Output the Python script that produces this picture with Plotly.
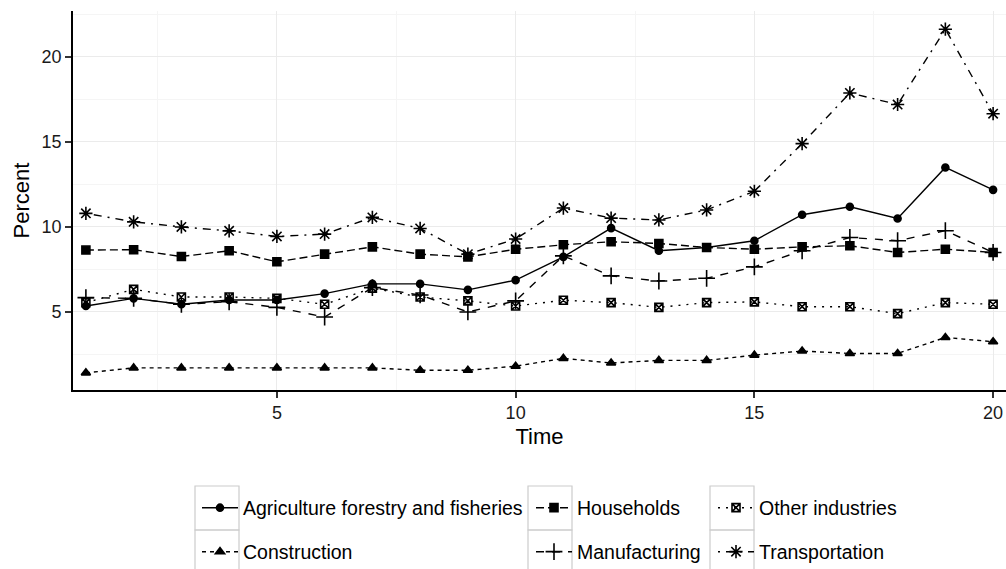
import plotly.graph_objects as go

time = list(range(1, 21))

agriculture = [5.35, 5.8, 5.45, 5.7, 5.7, 6.08, 6.65, 6.65, 6.3, 6.87, 8.24, 9.93, 8.6, 8.79, 9.19, 10.72, 11.19, 10.5, 13.5, 12.18]
construction = [1.42, 1.71, 1.71, 1.71, 1.71, 1.71, 1.71, 1.57, 1.57, 1.81, 2.27, 2.0, 2.15, 2.15, 2.46, 2.7, 2.56, 2.56, 3.5, 3.25]
households = [8.64, 8.66, 8.26, 8.6, 7.95, 8.4, 8.83, 8.4, 8.24, 8.69, 8.95, 9.13, 9.03, 8.79, 8.69, 8.83, 8.89, 8.5, 8.69, 8.5]
manufacturing = [5.84, 5.8, 5.45, 5.6, 5.27, 4.7, 6.43, 6.0, 5.0, 5.65, 8.3, 7.12, 6.82, 6.98, 7.65, 8.6, 9.38, 9.19, 9.78, 8.5]
other = [5.55, 6.33, 5.88, 5.88, 5.8, 5.45, 6.4, 5.88, 5.65, 5.35, 5.69, 5.55, 5.27, 5.55, 5.59, 5.31, 5.31, 4.9, 5.55, 5.45]
transportation = [10.8, 10.3, 10.0, 9.77, 9.44, 9.58, 10.56, 9.91, 8.4, 9.29, 11.11, 10.52, 10.41, 11.0, 12.1, 14.9, 17.88, 17.2, 21.63, 16.66]

x_ticks = [5, 10, 15, 20]
y_ticks = [5, 10, 15, 20]

FONT = "Liberation Sans, Arial, sans-serif"

series = [
    ("Agriculture forestry and fisheries", agriculture, "solid", "circle", 7, "legend"),
    ("Households", households, "8px,4px", "square", 8, "legend2"),
    ("Other industries", other, "2px,6px", "square-x-open", 8, "legend3"),
    ("Construction", construction, "4px,4px", "triangle-up", 8, "legend4"),
    ("Manufacturing", manufacturing, "8px,8px", "cross-thin-open", 12, "legend5"),
    ("Transportation", transportation, "2px,6px,8px,6px", "asterisk-open", 11, "legend6"),
]

fig = go.Figure()
for name, vals, dash, sym, size, leg in series:
    fig.add_trace(go.Scatter(
        x=time, y=vals, name=name, mode="lines+markers",
        line=dict(color="black", width=1.4, dash=dash),
        marker=dict(symbol=sym, size=size, color="black",
                    line=dict(color="black", width=1.6)),
        legend=leg,
    ))

# legend positions (container coords): columns and rows
col_x = [197 / 1006, 531 / 1006, 713 / 1006]
row_y = [1 - 508 / 569, 1 - 552 / 569]
legend_names = ["legend", "legend2", "legend3", "legend4", "legend5", "legend6"]
legend_cfg = {}
for i, ln in enumerate(legend_names):
    r, c = divmod(i, 3)
    legend_cfg[ln] = dict(
        x=col_x[c], y=row_y[r], xref="container", yref="container",
        xanchor="left", yanchor="middle", orientation="h",
        bgcolor="rgba(0,0,0,0)", borderwidth=0, itemwidth=36,
        font=dict(family=FONT, size=19.5, color="black"),
    )

# legend key boxes (paper coords)
W, H = 933.0, 379.0
def px(xp):
    return (xp - 73) / W
def py(yp):
    return (390 - yp) / H
shapes = []
for bx in [195, 528, 710]:
    for by in [486, 530]:
        shapes.append(dict(type="rect", xref="paper", yref="paper",
                           x0=px(bx), x1=px(bx + 44), y0=py(by), y1=py(by + 44),
                           line=dict(color="#cccccc", width=1.2),
                           fillcolor="rgba(0,0,0,0)", layer="below"))

axis_common = dict(
    showline=True, linecolor="black", linewidth=1.6, mirror=False,
    ticks="outside", ticklen=6, tickwidth=1.5, tickcolor="#333333",
    showgrid=True, gridcolor="#ebebeb", gridwidth=1.4,
    zeroline=False,
    tickfont=dict(family=FONT, size=18, color="#1a1a1a"),
)

fig.update_layout(
    width=1006, height=569,
    margin=dict(l=73, r=0, t=11, b=179, autoexpand=False),
    paper_bgcolor="white", plot_bgcolor="white",
    showlegend=True,
    shapes=shapes,
    xaxis=dict(range=[0.73, 20.27], tickmode="array", tickvals=x_ticks,
               minor=dict(dtick=2.5, tick0=0, showgrid=True, gridcolor="#f5f5f5", gridwidth=1),
               title=dict(text="Time", font=dict(family=FONT, size=22, color="black"), standoff=6),
               **axis_common),
    yaxis=dict(range=[0.41, 22.7], tickmode="array", tickvals=y_ticks,
               minor=dict(dtick=2.5, tick0=0, showgrid=True, gridcolor="#f5f5f5", gridwidth=1),
               title=dict(text="Percent", font=dict(family=FONT, size=22, color="black"), standoff=6),
               **axis_common),
    **legend_cfg,
)

fig.write_html("out.html")
